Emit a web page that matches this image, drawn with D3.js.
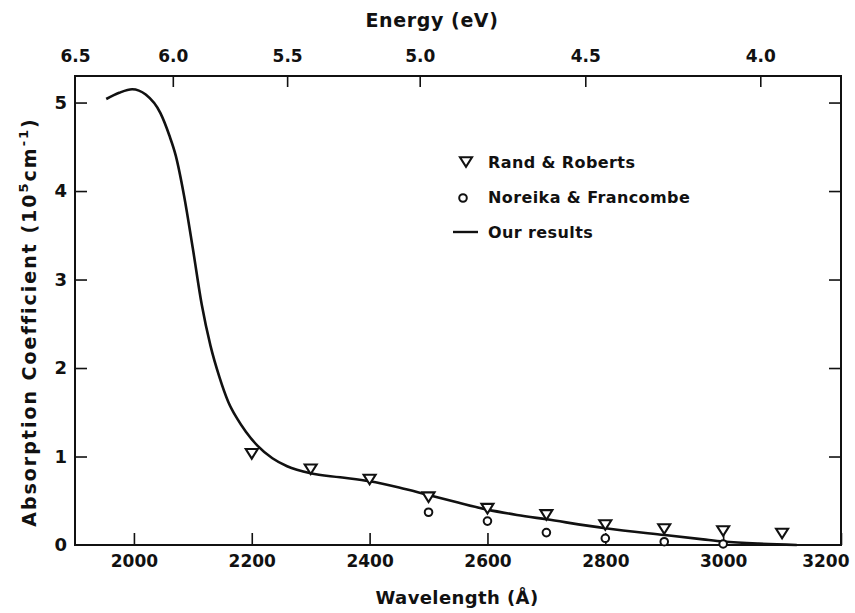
<!DOCTYPE html>
<html>
<head>
<meta charset="utf-8">
<script src="https://cdn.jsdelivr.net/npm/d3@7"></script>
<style>
body { margin: 0; background: #fff; }
text { font-family: "DejaVu Sans", sans-serif; fill: #111; }
</style>
</head>
<body>
<svg id="chart" width="855" height="613"></svg>
<script>
// values
var xTicks = [2000, 2200, 2400, 2600, 2800, 3000, 3200]
var yTicks = [0, 1, 2, 3, 4, 5]
var energyTicks = [6.5, 6.0, 5.5, 5.0, 4.5, 4.0]
// where each energy tick sits on the wavelength axis
var energyTickWl = [1900, 2066, 2260, 2485, 2766, 3063]

var randWl = [2200, 2300, 2400, 2500, 2600, 2700, 2800, 2900, 3000, 3100]
var randAbs = [1.03, 0.855, 0.74, 0.54, 0.41, 0.34, 0.226, 0.18, 0.158, 0.13]

var noreikaWl = [2500, 2600, 2700, 2800, 2900, 3000]
var noreikaAbs = [0.37, 0.27, 0.14, 0.076, 0.037, 0.012]

var ourWl = [1953, 1975, 1997, 2020, 2045, 2060, 2071, 2085, 2100, 2115, 2130, 2145, 2160, 2175, 2190, 2210, 2235, 2260, 2300, 2350, 2400, 2450, 2500, 2550, 2600, 2650, 2700, 2800, 2900, 2966, 3000, 3060, 3125]
var ourAbs = [5.04, 5.11, 5.15, 5.09, 4.88, 4.63, 4.40, 3.95, 3.35, 2.72, 2.25, 1.90, 1.62, 1.43, 1.28, 1.12, 0.98, 0.89, 0.81, 0.765, 0.72, 0.65, 0.565, 0.48, 0.40, 0.34, 0.29, 0.19, 0.113, 0.064, 0.04, 0.015, 0]

var legendNames = ["Rand & Roberts", "Noreika & Francombe", "Our results"]

function drawChart(){
var svg = d3.select("#chart")
var pLeft = 75, pRight = 841, pTop = 76, pBottom = 545

var x = d3.scaleLinear().domain([1900, 3200]).range([pLeft, pRight])
var y = d3.scaleLinear().domain([0, 5.3]).range([pBottom, pTop])
// energy axis: piecewise map from eV to pixel
var xE = d3.scaleLinear().domain(energyTicks).range(energyTickWl.map(x))

var ink = "#111"

// frame
svg.append("rect")
  .attr("x", pLeft).attr("y", pTop)
  .attr("width", pRight - pLeft).attr("height", pBottom - pTop)
  .attr("fill", "none").attr("stroke", ink).attr("stroke-width", 2)

// bottom axis, ticks pointing in
var gx = svg.append("g").attr("transform", "translate(0," + pBottom + ")")
  .call(d3.axisBottom(x).tickValues(xTicks).tickSizeInner(-12).tickSizeOuter(0).tickPadding(10).tickFormat(d3.format("d")))
gx.select(".domain").remove()
gx.selectAll("line").attr("stroke", ink).attr("stroke-width", 1.6)
gx.selectAll("text").attr("font-size", 17).attr("font-weight", "bold").attr("fill", ink).style("font-family", "DejaVu Sans")
// last label is pushed in so it stays on the page
gx.selectAll(".tick").filter(function(d){ return d == 3200 }).select("text")
  .attr("text-anchor", "end").attr("x", 8)

// left axis
var gy = svg.append("g").attr("transform", "translate(" + pLeft + ",0)")
  .call(d3.axisLeft(y).tickValues(yTicks).tickSizeInner(-12).tickSizeOuter(0).tickPadding(8).tickFormat(d3.format("d")))
gy.select(".domain").remove()
gy.selectAll("line").attr("stroke", ink).attr("stroke-width", 1.6)
gy.selectAll("text").attr("font-size", 18).attr("font-weight", "bold").attr("fill", ink).style("font-family", "DejaVu Sans")
gy.selectAll(".tick").filter(function(d){ return d == 0 }).select("line").remove()

// right axis, ticks only
var gr = svg.append("g").attr("transform", "translate(" + pRight + ",0)")
  .call(d3.axisRight(y).tickValues(yTicks.slice(1)).tickSizeInner(-12).tickSizeOuter(0).tickFormat(""))
gr.select(".domain").remove()
gr.selectAll("line").attr("stroke", ink).attr("stroke-width", 1.6)

// top axis (energy)
var gt = svg.append("g").attr("transform", "translate(0," + pTop + ")")
  .call(d3.axisTop(xE).tickValues(energyTicks).tickSizeInner(-11).tickSizeOuter(0).tickPadding(14).tickFormat(d3.format(".1f")))
gt.select(".domain").remove()
gt.selectAll("line").attr("stroke", ink).attr("stroke-width", 1.6)
gt.selectAll(".tick").filter(function(d){ return d == 6.5 }).select("line").remove()
gt.selectAll("text").attr("font-size", 17).attr("font-weight", "bold").attr("fill", ink).style("font-family", "DejaVu Sans")

// titles
svg.append("text").attr("x", 432).attr("y", 27).attr("text-anchor", "middle")
  .attr("font-size", 19).attr("font-weight", "bold").attr("letter-spacing", 0.6).text("Energy (eV)")
svg.append("text").attr("x", 457).attr("y", 604).attr("text-anchor", "middle")
  .attr("font-size", 18).attr("font-weight", "bold").attr("letter-spacing", 0.4).text("Wavelength (Å)")

var yt = svg.append("text").attr("transform", "translate(36,322) rotate(-90)")
  .attr("text-anchor", "middle").attr("font-size", 19).attr("font-weight", "bold").attr("letter-spacing", 2)
yt.append("tspan").text("Absorption  Coefficient  (10")
yt.append("tspan").attr("dy", -8).attr("font-size", 13).text("5")
yt.append("tspan").attr("dy", 8).text("cm")
yt.append("tspan").attr("dy", -8).attr("font-size", 13).text("-1")
yt.append("tspan").attr("dy", 8).text(")")

// our results curve
var ourData = d3.zip(ourWl, ourAbs)
var line = d3.line().x(function(d){ return x(d[0]) }).y(function(d){ return y(d[1]) }).curve(d3.curveMonotoneX)
svg.append("path").attr("d", line(ourData))
  .attr("fill", "none").attr("stroke", ink).attr("stroke-width", 2.6)

// markers
var tri = "M-6,-4.8L6,-4.8L0,4.8Z"
svg.append("g").selectAll("path").data(d3.zip(randWl, randAbs)).enter().append("path")
  .attr("d", tri)
  .attr("transform", function(d){ return "translate(" + x(d[0]) + "," + y(d[1]) + ")" })
  .attr("fill", "#fff").attr("stroke", ink).attr("stroke-width", 2.1)

svg.append("g").selectAll("circle").data(d3.zip(noreikaWl, noreikaAbs)).enter().append("circle")
  .attr("cx", function(d){ return x(d[0]) }).attr("cy", function(d){ return y(d[1]) })
  .attr("r", 3.8).attr("fill", "#fff").attr("stroke", ink).attr("stroke-width", 2)

// legend
var lg = svg.append("g").attr("transform", "translate(466,162)")
lg.append("path").attr("d", tri).attr("fill", "#fff").attr("stroke", ink).attr("stroke-width", 2.1)
lg.append("circle").attr("cx", -3).attr("cy", 36).attr("r", 3.8).attr("fill", "#fff").attr("stroke", ink).attr("stroke-width", 2)
lg.append("line").attr("x1", -13).attr("x2", 12).attr("y1", 70).attr("y2", 70).attr("stroke", ink).attr("stroke-width", 2.4)
lg.selectAll("text.lab").data(legendNames).enter().append("text")
  .attr("class", "lab")
  .attr("x", 22).attr("y", function(d, i){ return i * 35 + 6 })
  .attr("font-size", 16).attr("font-weight", "bold").attr("letter-spacing", 0.4)
  .text(function(d){ return d })
}
drawChart()
</script>
</body>
</html>
